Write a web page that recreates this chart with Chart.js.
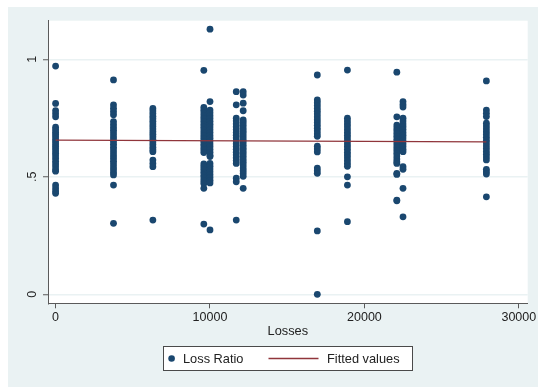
<!DOCTYPE html>
<html>
<head>
<meta charset="utf-8">
<script src="https://cdn.jsdelivr.net/npm/chart.js@4.4.1/dist/chart.umd.min.js"></script>
<style>
  html, body { margin: 0; padding: 0; background: #ffffff; }
  #wrap { width: 538px; height: 387px; position: relative; }
</style>
</head>
<body>
<div id="wrap"><canvas id="lossChart"></canvas></div>
<script>
// Loss ratio by losses
const lossLevels = [0, 3750, 6300, 9600, 10000, 11700, 12150, 16950, 18900, 22100, 22500, 27900];

const ratioAt0 = [0.971, 0.812, 0.781, 0.768, 0.755, 0.711, 0.700, 0.690, 0.680, 0.670, 0.660, 0.650, 0.640, 0.630, 0.620, 0.610, 0.600, 0.590, 0.578, 0.566, 0.555, 0.543, 0.530, 0.524, 0.465, 0.452, 0.440, 0.430];
const ratioAt3750 = [0.912, 0.806, 0.792, 0.778, 0.764, 0.735, 0.722, 0.710, 0.698, 0.686, 0.674, 0.662, 0.650, 0.638, 0.626, 0.614, 0.602, 0.590, 0.578, 0.566, 0.554, 0.542, 0.530, 0.518, 0.508, 0.465, 0.302];
const ratioAt6300 = [0.791, 0.780, 0.769, 0.758, 0.747, 0.736, 0.725, 0.714, 0.703, 0.692, 0.681, 0.670, 0.659, 0.648, 0.637, 0.626, 0.615, 0.607, 0.571, 0.557, 0.543, 0.316];
const ratioAt9600 = [0.953, 0.795, 0.783, 0.771, 0.759, 0.747, 0.735, 0.723, 0.711, 0.699, 0.687, 0.675, 0.663, 0.651, 0.639, 0.627, 0.615, 0.603, 0.555, 0.543, 0.531, 0.519, 0.507, 0.495, 0.483, 0.472, 0.451, 0.299];
const ratioAt10000 = [1.128, 0.820, 0.784, 0.772, 0.760, 0.748, 0.736, 0.724, 0.712, 0.700, 0.688, 0.676, 0.664, 0.652, 0.640, 0.628, 0.616, 0.604, 0.592, 0.586, 0.557, 0.545, 0.533, 0.521, 0.509, 0.497, 0.485, 0.474, 0.274];
const ratioAt11700 = [0.862, 0.806, 0.749, 0.737, 0.725, 0.713, 0.701, 0.689, 0.677, 0.665, 0.653, 0.641, 0.629, 0.617, 0.605, 0.593, 0.581, 0.569, 0.557, 0.494, 0.479, 0.316];
const ratioAt12150 = [0.862, 0.848, 0.813, 0.781, 0.742, 0.730, 0.718, 0.706, 0.694, 0.682, 0.670, 0.658, 0.646, 0.634, 0.622, 0.610, 0.598, 0.586, 0.574, 0.562, 0.550, 0.538, 0.526, 0.514, 0.502, 0.451];
const ratioAt16950 = [0.933, 0.827, 0.815, 0.803, 0.791, 0.779, 0.767, 0.755, 0.743, 0.731, 0.719, 0.707, 0.695, 0.683, 0.672, 0.630, 0.618, 0.606, 0.537, 0.526, 0.515, 0.270, 0.0];
const ratioAt18900 = [0.954, 0.749, 0.737, 0.725, 0.713, 0.701, 0.689, 0.677, 0.665, 0.653, 0.641, 0.629, 0.617, 0.605, 0.593, 0.581, 0.569, 0.557, 0.545, 0.500, 0.465, 0.309];
const ratioAt22100 = [0.945, 0.755, 0.720, 0.708, 0.696, 0.684, 0.672, 0.660, 0.648, 0.636, 0.624, 0.612, 0.600, 0.588, 0.576, 0.564, 0.557, 0.515, 0.510, 0.401, 0.398];
const ratioAt22500 = [0.820, 0.808, 0.797, 0.749, 0.737, 0.725, 0.713, 0.701, 0.689, 0.677, 0.665, 0.653, 0.641, 0.629, 0.617, 0.607, 0.543, 0.532, 0.451, 0.330];
const ratioAt27900 = [0.908, 0.784, 0.770, 0.756, 0.728, 0.716, 0.704, 0.692, 0.680, 0.668, 0.656, 0.644, 0.632, 0.620, 0.608, 0.596, 0.584, 0.572, 0.532, 0.522, 0.512, 0.415];

const fittedX = [0, 27900];
const fittedY = [0.656, 0.649];

const xTickValues = [0, 10000, 20000, 30000];
const xTickLabels = ['0', '10000', '20000', '30000'];
const yTickValues = [0, 0.5, 1];
const yTickLabels = ['0', '.5', '1'];

const ratioColumns = [ratioAt0, ratioAt3750, ratioAt6300, ratioAt9600, ratioAt10000, ratioAt11700,
  ratioAt12150, ratioAt16950, ratioAt18900, ratioAt22100, ratioAt22500, ratioAt27900];

const scatterPoints = [];
ratioColumns.forEach((col, i) => {
  col.forEach(v => scatterPoints.push({ x: lossLevels[i], y: v }));
});
const fittedPoints = fittedX.map((x, i) => ({ x: x, y: fittedY[i] }));

const FONT = "'Liberation Sans', Arial, Helvetica, sans-serif";
const navy = '#1a476f';
const maroon = '#90353b';
const axisGray = '#5a5a5a';
const bgColor = '#eaf2f3';

// graph region background + white plot region
const backgroundPlugin = {
  id: 'stataBackground',
  beforeDraw(chart) {
    const { ctx, chartArea } = chart;
    ctx.save();
    ctx.fillStyle = '#ffffff';
    ctx.fillRect(0, 0, chart.width, chart.height);
    ctx.fillStyle = bgColor;
    ctx.fillRect(8, 7, chart.width - 8, chart.height - 7);
    ctx.fillStyle = '#ffffff';
    ctx.fillRect(chartArea.left, chartArea.top, chartArea.right - chartArea.left, chartArea.bottom - chartArea.top);
    ctx.restore();
  }
};

// rotated y labels and the boxed legend
const decorPlugin = {
  id: 'stataDecor',
  afterDraw(chart) {
    const { ctx } = chart;
    const yScale = chart.scales.y;
    ctx.save();
    ctx.fillStyle = '#222222';
    ctx.font = '12.5px ' + FONT;
    ctx.textAlign = 'center';
    ctx.textBaseline = 'middle';
    yTickValues.forEach((v, i) => {
      const py = yScale.getPixelForValue(v);
      ctx.save();
      ctx.translate(32.5, py);
      ctx.rotate(-Math.PI / 2);
      ctx.fillText(yTickLabels[i], 0, 0);
      ctx.restore();
    });

    // legend
    const lx = 163.5, ly = 346.5, lw = 249, lh = 24;
    ctx.fillStyle = '#ffffff';
    ctx.fillRect(lx, ly, lw, lh);
    ctx.strokeStyle = '#4a4a4a';
    ctx.lineWidth = 1;
    ctx.strokeRect(lx, ly, lw, lh);
    const cy = ly + lh / 2;
    ctx.fillStyle = navy;
    ctx.beginPath();
    ctx.arc(171.6, cy, 3.3, 0, Math.PI * 2);
    ctx.fill();
    ctx.strokeStyle = maroon;
    ctx.lineWidth = 1.3;
    ctx.beginPath();
    ctx.moveTo(268.5, cy);
    ctx.lineTo(318.5, cy);
    ctx.stroke();
    ctx.fillStyle = '#222222';
    ctx.font = '12.8px ' + FONT;
    ctx.textAlign = 'left';
    ctx.fillText(chart.data.datasets[1].label, 183, cy + 0.5);
    ctx.fillText(chart.data.datasets[0].label, 327, cy + 0.5);
    ctx.restore();
  }
};

const ctx = document.getElementById('lossChart');

new Chart(ctx, {
  type: 'scatter',
  data: {
    datasets: [{
      type: 'line',
      label: 'Fitted values',
      data: fittedPoints,
      borderColor: maroon,
      borderWidth: 1.3,
      pointRadius: 0,
      fill: false,
      order: 1,
    }, {
      label: 'Loss Ratio',
      data: scatterPoints,
      backgroundColor: navy,
      borderWidth: 0,
      pointRadius: 3.4,
      order: 2,
    }]
  },
  options: {
    responsive: true,
    maintainAspectRatio: false,
    animation: false,
    devicePixelRatio: 1,
    layout: {
      padding: { left: 0, top: 20.7, right: 10.3, bottom: 0 }
    },
    plugins: {
      legend: { display: false },
      tooltip: { enabled: false },
    },
    scales: {
      x: {
        type: 'linear',
        min: -492,
        max: 30576,
        afterBuildTicks: function(scale) {
          scale.ticks = xTickValues.map(v => ({ value: v }));
        },
        afterFit: function(scale) {
          scale.height = 83.7;
        },
        border: { display: true, color: axisGray, width: 1 },
        grid: {
          display: true,
          drawOnChartArea: false,
          drawTicks: true,
          tickLength: 5,
          tickColor: axisGray,
          tickWidth: 1,
        },
        ticks: {
          color: '#222222',
          padding: 1.5,
          maxRotation: 0,
          font: { family: FONT, size: 12.5 },
          callback: function(value, index) {
            return xTickLabels[index];
          }
        },
        title: {
          display: true,
          text: 'Losses',
          color: '#222222',
          font: { family: FONT, size: 12.8 },
          padding: { top: 0, bottom: 47.7 }
        }
      },
      y: {
        type: 'linear',
        min: -0.038,
        max: 1.164,
        afterBuildTicks: function(scale) {
          scale.ticks = yTickValues.map(v => ({ value: v }));
        },
        afterFit: function(scale) {
          scale.width = 48;
        },
        border: { display: true, color: axisGray, width: 1 },
        grid: {
          color: bgColor,
          lineWidth: 1.5,
          drawTicks: true,
          tickLength: 5,
          tickColor: axisGray,
          tickWidth: 1,
        },
        ticks: {
          display: false,
        }
      }
    }
  },
  plugins: [backgroundPlugin, decorPlugin]
});
</script>
</body>
</html>
